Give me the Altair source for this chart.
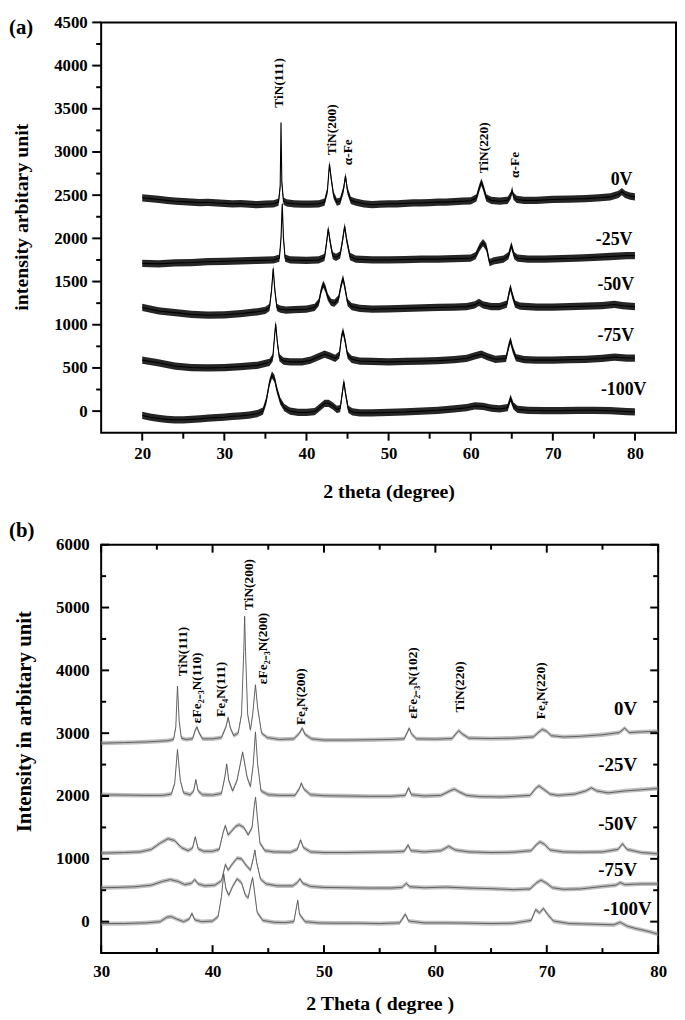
import altair as alt
import pandas as pd

FONT = "Liberation Serif"

# ---------------- panel (a): 2theta 20-80, five bias voltages ----------------
A_NAMES = ["0V", "-25V", "-50V", "-75V", "-100V"]
A_0V = [(20, 2470), (21, 2460), (22, 2450), (23, 2440), (24, 2430), (25, 2425), (26, 2420),
        (27, 2415), (28, 2418), (29, 2410), (30, 2405), (31, 2400), (32, 2402), (33, 2395),
        (34, 2390), (35, 2395), (36, 2400), (36.6, 2420), (36.8, 2600), (36.9, 3340), (37.0, 2650),
        (37.2, 2430), (37.6, 2410), (38.5, 2400), (39.5, 2395), (40.5, 2395), (41.5, 2400),
        (42.2, 2420), (42.55, 2550), (42.8, 2860), (43.0, 2700), (43.3, 2500), (43.7, 2420),
        (44.1, 2430), (44.5, 2560), (44.75, 2720), (45.0, 2550), (45.4, 2440), (46, 2420),
        (47, 2400), (48, 2390), (49, 2395), (50, 2400), (51, 2400), (52, 2405), (53, 2410),
        (54, 2410), (55, 2415), (56, 2420), (57, 2420), (58, 2425), (59, 2430), (60, 2435),
        (60.7, 2470), (61.1, 2600), (61.3, 2650), (61.5, 2600), (61.9, 2470), (62.5, 2440),
        (63.5, 2430), (64.5, 2440), (64.9, 2500), (65.05, 2560), (65.2, 2490), (65.6, 2450),
        (66.5, 2440), (68, 2440), (70, 2450), (72, 2455), (74, 2460), (75.5, 2470), (77, 2480),
        (78, 2510), (78.4, 2540), (78.8, 2510), (79.4, 2490), (80, 2480)]
A_25V = [(20, 1710), (22, 1705), (24, 1715), (26, 1720), (28, 1730), (30, 1735), (32, 1740),
         (34, 1745), (36, 1750), (36.7, 1770), (36.9, 2000), (37.05, 2400), (37.2, 2000),
         (37.4, 1770), (38, 1750), (40, 1745), (41.5, 1750), (42.2, 1780), (42.45, 1950),
         (42.65, 2110), (42.9, 1950), (43.2, 1800), (43.6, 1780), (44.1, 1810), (44.4, 1980),
         (44.65, 2140), (44.9, 1980), (45.3, 1790), (46, 1760), (48, 1750), (50, 1750),
         (52, 1755), (54, 1760), (56, 1760), (58, 1765), (60, 1770), (60.6, 1800), (61.1, 1900),
         (61.5, 1950), (61.9, 1900), (62.3, 1720), (62.8, 1740), (64, 1760), (64.6, 1800),
         (64.95, 1920), (65.3, 1800), (65.7, 1770), (67, 1760), (69, 1760), (71, 1765),
         (73, 1770), (75, 1780), (77, 1790), (79, 1800), (80, 1800)]
A_50V = [(20, 1200), (21, 1180), (22, 1160), (24, 1140), (26, 1120), (28, 1110), (30, 1115),
         (32, 1130), (34, 1150), (35, 1165), (35.5, 1200), (35.75, 1400), (35.95, 1650),
         (36.15, 1400), (36.4, 1200), (36.8, 1180), (37.5, 1170), (38.5, 1175), (40, 1180),
         (41, 1200), (41.5, 1260), (41.8, 1400), (42.05, 1470), (42.3, 1420), (42.6, 1320),
         (43.0, 1260), (43.4, 1250), (43.9, 1300), (44.2, 1450), (44.45, 1540), (44.7, 1420),
         (45.0, 1260), (45.5, 1210), (46.5, 1190), (48, 1180), (50, 1185), (52, 1190),
         (54, 1195), (56, 1200), (58, 1205), (59.5, 1210), (60.5, 1230), (61, 1260),
         (61.5, 1230), (62.5, 1210), (63.5, 1210), (64.4, 1240), (64.7, 1380), (64.85, 1430),
         (65.05, 1350), (65.4, 1240), (66, 1215), (68, 1205), (70, 1205), (72, 1210),
         (74, 1215), (76, 1220), (77.5, 1235), (78.5, 1220), (80, 1210)]
A_75V = [(20, 590), (22, 560), (24, 520), (26, 505), (28, 500), (30, 505), (32, 515), (34, 530),
         (35.5, 565), (35.9, 620), (36.1, 850), (36.25, 1010), (36.45, 800), (36.7, 620),
         (37.2, 580), (38, 570), (39.5, 570), (40.5, 590), (41.5, 630), (42.2, 660), (42.8, 640),
         (43.5, 610), (44.0, 650), (44.25, 850), (44.45, 930), (44.7, 820), (45.0, 650),
         (45.5, 600), (46.5, 580), (48, 575), (50, 570), (52, 575), (54, 580), (56, 585),
         (58, 595), (59.5, 610), (60.5, 640), (61.3, 660), (62, 630), (63, 600), (64.3, 610),
         (64.65, 760), (64.85, 820), (65.1, 720), (65.5, 620), (66.5, 595), (68, 590), (70, 590),
         (72, 595), (74, 600), (76, 610), (77.5, 625), (79, 615), (80, 615)]
A_100V = [(20, -50), (21, -70), (22, -85), (23, -95), (24, -100), (25, -100), (26, -95),
          (27, -90), (28, -80), (29, -75), (30, -70), (31, -60), (32, -55), (33, -45), (34, -30),
          (34.7, 0), (35.1, 120), (35.5, 330), (35.8, 420), (36.1, 380), (36.4, 250), (36.8, 120),
          (37.3, 40), (38, 0), (39, -15), (40, -15), (41, -5), (41.7, 50), (42.2, 90), (42.7, 90),
          (43.2, 60), (43.7, 20), (44.1, 30), (44.35, 200), (44.55, 340), (44.8, 180), (45.1, 20),
          (45.6, -10), (46.5, -20), (48, -20), (50, -15), (52, -10), (54, 0), (56, 10), (58, 25),
          (59.5, 40), (60.5, 60), (61.5, 55), (62.5, 35), (63.5, 25), (64.5, 40), (64.85, 150),
          (65.2, 60), (65.7, 20), (67, 10), (69, 5), (71, 5), (73, 10), (75, 10), (77, 5),
          (79, -5), (80, -10)]
A_DATA = [A_0V, A_25V, A_50V, A_75V, A_100V]

A_PEAK_TEXT = ["TiN(111)", "TiN(200)", "α-Fe", "TiN(220)", "α-Fe"]
A_PEAK_X = [36.66, 43.06, 45.1, 61.6, 65.35]
A_PEAK_Y = [3800, 3257, 2997, 3048, 2850]
A_LABEL_X = [79.7, 79.7, 79.9, 79.9, 81.4]
A_LABEL_Y = [2680, 1979, 1459, 871, 240]

A_XDOM = [15, 85]
A_YDOM = [-250, 4500]
A_X_MAJOR = [20, 30, 40, 50, 60, 70, 80]
A_X_MINOR = [25, 35, 45, 55, 65, 75]
A_Y_MAJOR = [0, 500, 1000, 1500, 2000, 2500, 3000, 3500, 4000, 4500]
A_Y_MINOR = [250, 750, 1250, 1750, 2250, 2750, 3250, 3750, 4250]
A_NOISE = 42

# ---------------- panel (b): 2theta 30-80 ----------------
B_NAMES = ["0V", "-25V", "-50V", "-75V", "-100V"]
B_0V = [(30, 2840), (31, 2845), (32, 2850), (33, 2855), (34, 2860), (35, 2870), (36, 2880),
        (36.5, 2900), (36.7, 3100), (36.85, 3750), (37.0, 3200), (37.2, 2920), (37.6, 2900),
        (38.2, 2910), (38.45, 3050), (38.6, 3100), (38.75, 3020), (39.1, 2910), (40.0, 2910),
        (40.8, 2930), (41.2, 3100), (41.4, 3250), (41.6, 3080), (41.9, 2960), (42.3, 3000),
        (42.6, 3300), (42.8, 4300), (42.88, 4860), (42.96, 4300), (43.15, 3300), (43.4, 3050),
        (43.6, 3300), (43.85, 3770), (44.05, 3400), (44.4, 3000), (44.9, 2930), (46, 2900),
        (47.3, 2910), (47.8, 3000), (48.05, 3080), (48.3, 2980), (48.9, 2910), (50, 2890),
        (52, 2890), (54, 2895), (56, 2900), (57.2, 2910), (57.5, 3020), (57.65, 3080),
        (57.85, 2990), (58.3, 2910), (60, 2905), (61.5, 2915), (61.9, 3000), (62.1, 3040),
        (62.4, 2990), (63, 2920), (65, 2915), (67, 2920), (68.8, 2940), (69.3, 3020),
        (69.6, 3060), (70.0, 3030), (70.4, 2960), (71.5, 2940), (73, 2950), (75, 2975),
        (76.5, 3010), (77, 3080), (77.4, 3010), (78.5, 3020), (80, 3030)]
B_25V = [(30, 2020), (32, 2015), (34, 2010), (35.5, 2010), (36.3, 2030), (36.6, 2200),
         (36.85, 2740), (37.1, 2250), (37.4, 2050), (38.0, 2020), (38.3, 2080), (38.5, 2260),
         (38.7, 2080), (39.1, 2020), (40.0, 2015), (40.8, 2040), (41.1, 2300), (41.27, 2510),
         (41.45, 2250), (41.8, 2080), (42.2, 2250), (42.7, 2700), (43.1, 2300), (43.4, 2150),
         (43.65, 2500), (43.85, 3020), (44.05, 2500), (44.35, 2080), (45, 2020), (46, 2010),
         (47.4, 2010), (47.8, 2120), (47.97, 2205), (48.2, 2110), (48.8, 2020), (50, 2005),
         (52, 2000), (54, 1995), (56, 1995), (57.3, 2010), (57.6, 2130), (57.85, 2020),
         (59, 2000), (60.5, 2010), (61.3, 2080), (61.7, 2110), (62.1, 2070), (62.8, 2010),
         (64, 1990), (66, 1985), (68.5, 2010), (69.0, 2120), (69.3, 2160), (69.7, 2110),
         (70.3, 2030), (71, 2010), (72.5, 2030), (73.5, 2080), (74.0, 2130), (74.5, 2080),
         (75.5, 2050), (77, 2080), (78.5, 2100), (80, 2120)]
B_50V = [(30, 1090), (32, 1100), (33.5, 1110), (34.5, 1150), (35.3, 1250), (36.0, 1320),
         (36.6, 1290), (37.2, 1180), (37.8, 1130), (38.2, 1170), (38.45, 1350), (38.7, 1160),
         (39.2, 1120), (40.0, 1120), (40.6, 1150), (40.95, 1420), (41.15, 1530), (41.4, 1380),
         (41.7, 1440), (42.1, 1520), (42.4, 1540), (42.8, 1500), (43.2, 1380), (43.55, 1500),
         (43.75, 1850), (43.86, 1980), (44.0, 1700), (44.25, 1250), (44.7, 1130), (45.5, 1110),
         (47.0, 1105), (47.6, 1150), (47.9, 1300), (48.15, 1180), (48.8, 1110), (50, 1100),
         (52, 1100), (54, 1105), (56, 1110), (57.2, 1120), (57.55, 1220), (57.8, 1130),
         (59, 1110), (60.5, 1130), (61.2, 1200), (61.8, 1140), (63, 1110), (65, 1100),
         (67, 1105), (68.6, 1130), (69.1, 1230), (69.4, 1270), (69.8, 1230), (70.3, 1140),
         (71.5, 1110), (73, 1105), (75, 1110), (76.4, 1150), (76.8, 1240), (77.2, 1150),
         (78.5, 1100), (80, 1080)]
B_75V = [(30, 540), (31.5, 545), (33, 555), (34.5, 580), (35.5, 640), (36.2, 670), (36.9, 640),
         (37.5, 590), (38.1, 610), (38.4, 670), (38.7, 600), (39.3, 570), (40.2, 580),
         (40.8, 650), (41.15, 910), (41.4, 820), (41.7, 900), (42.2, 1010), (42.6, 1000),
         (43.0, 900), (43.4, 820), (43.65, 1000), (43.8, 1140), (43.95, 950), (44.3, 680),
         (44.8, 600), (45.8, 570), (47.2, 570), (47.6, 620), (47.85, 680), (48.1, 610),
         (48.8, 560), (50, 545), (52, 540), (54, 535), (56, 535), (57.0, 545), (57.4, 610),
         (57.7, 555), (59, 540), (61, 550), (63, 535), (65, 525), (67, 510), (68.5, 520),
         (69.1, 620), (69.5, 660), (70.0, 610), (70.5, 540), (71.5, 515), (73, 520), (75, 560),
         (76.2, 580), (76.6, 620), (77.0, 590), (78.5, 600), (80, 600)]
B_100V = [(30, -30), (32, -30), (34, -20), (35.3, 0), (35.9, 70), (36.3, 80), (36.8, 40),
          (37.4, 0), (37.9, 40), (38.15, 130), (38.4, 30), (39, 0), (40.0, 10), (40.5, 80),
          (40.8, 400), (41.0, 760), (41.2, 520), (41.45, 420), (41.8, 560), (42.2, 680),
          (42.6, 620), (42.95, 420), (43.2, 380), (43.45, 600), (43.6, 700), (43.75, 500),
          (44.0, 150), (44.5, 20), (45.5, -10), (46.5, -15), (47.3, 0), (47.55, 250),
          (47.65, 340), (47.8, 120), (48.3, 0), (49.5, -20), (51, -25), (53, -25), (55, -30),
          (56.8, -20), (57.3, 120), (57.6, 10), (59, -20), (61, -20), (63, -25), (65, -30),
          (67, -25), (68.6, 20), (69.0, 190), (69.35, 140), (69.7, 210), (70.1, 110), (70.6, 10),
          (72, -30), (74, -40), (76, -50), (76.6, -10), (77.2, -70), (78, -110), (79, -150),
          (80, -200)]
B_DATA = [B_0V, B_25V, B_50V, B_75V, B_100V]

B_PEAK_TEXT = ["TiN(111)", "εFe₂₋₃N(110)", "Fe₄N(111)", "TiN(200)", "εFe₂₋₃N(200)",
               "Fe₄N(200)", "εFe₂₋₃N(102)", "TiN(220)", "Fe₄N(220)"]
B_PEAK_X = [37.35, 38.64, 40.75, 43.25, 44.49, 47.96, 58.02, 62.25, 69.46]
B_PEAK_Y = [4301, 3722, 3698, 5367, 4349, 3580, 3800, 3737, 3675]
B_LABEL_X = [78.1, 78.1, 78.1, 78.1, 79.4]
B_LABEL_Y = [3385, 2497, 1556, 815, 204]

B_XDOM = [30, 80]
B_YDOM = [-500, 6000]
B_X_MAJOR = [30, 40, 50, 60, 70, 80]
B_X_MINOR = [35, 45, 55, 65, 75]
B_Y_MAJOR = [0, 1000, 2000, 3000, 4000, 5000, 6000]
B_Y_MINOR = [500, 1500, 2500, 3500, 4500, 5500]
B_NOISE = 34

A_W, A_H = 580, 414
B_W, B_H = 562, 412


def frame(names, data, amp):
    rows = []
    for name, ser in zip(names, data):
        for x, y in ser:
            rows.append({"s": name, "x": x, "c": y, "lo": y - amp, "hi": y + amp})
    return pd.DataFrame(rows)


def axis(values, title, lpad, tpad, tsize, **kw):
    return alt.Axis(values=values, title=title, format="d", ticks=False, tickSize=0,
                    domain=False, grid=False,
                    labelPadding=lpad, titlePadding=tpad, labelFont=FONT, labelFontSize=17,
                    labelFontWeight="bold", labelColor="black", titleFont=FONT, titleFontSize=tsize,
                    titleFontWeight="bold", titleColor="black", labelFlush=False, labelOverlap=False, **kw)


def panel(names, data, amp, xdom, ydom, W, H, xt, xm, yt, ym, xaxis, yaxis,
          fill, fill_op, stroke, sw, peaks, labels, lab_size, tag, inward):
    xs = alt.Scale(domain=xdom, nice=False, zero=False)
    ys = alt.Scale(domain=ydom, nice=False, zero=False)

    def X(field):
        return alt.X(field, type="quantitative", scale=xs, axis=xaxis)

    def Y(field):
        return alt.Y(field, type="quantitative", scale=ys, axis=yaxis)

    def rules(values, chan, a, b):
        base = alt.Chart(pd.DataFrame({"v": values})).mark_rule(color="black", strokeWidth=2)
        if chan == "y":
            return base.encode(y=alt.Y("v", type="quantitative", scale=ys, axis=None),
                               x=alt.value(a), x2=alt.value(b))
        return base.encode(x=alt.X("v", type="quantitative", scale=xs, axis=None),
                           y=alt.value(a), y2=alt.value(b))

    df = frame(names, data, amp)
    band = alt.Chart(df).mark_area(color=fill, opacity=fill_op).encode(
        x=X("x"), y=Y("lo"), y2="hi", detail="s:N")
    line = alt.Chart(df).mark_line(color=stroke, strokeWidth=sw).encode(
        x=X("x"), y=Y("c"), detail="s:N")
    pk = alt.Chart(pd.DataFrame({"x": peaks[0], "y": peaks[1], "t": peaks[2]})).mark_text(
        angle=270, align="center", baseline="middle", font=FONT, fontSize=13.5,
        fontWeight="bold", color="black").encode(x=X("x"), y=Y("y"), text="t:N")
    lb = alt.Chart(pd.DataFrame({"x": labels[0], "y": labels[1], "t": names})).mark_text(
        align="right", baseline="middle", font=FONT, fontSize=lab_size, fontWeight="bold",
        color="black").encode(x=X("x"), y=Y("y"), text="t:N")
    tg = alt.Chart(pd.DataFrame({"t": [tag[0]]})).mark_text(
        align="left", baseline="middle", font=FONT, fontSize=21, fontWeight="bold",
        color="black").encode(x=alt.value(tag[1]), y=alt.value(tag[2]), text="t:N")
    main = alt.layer(band, line, pk, lb, tg)
    if inward:
        tk = [rules(yt, "y", 0, 8), rules(ym, "y", 0, 5),
              rules(yt, "y", W, W - 8), rules(ym, "y", W, W - 5),
              rules(xt, "x", H, H - 8), rules(xm, "x", H, H - 5),
              rules(xt, "x", 0, 8), rules(xm, "x", 0, 5)]
    else:
        tk = [rules(yt, "y", 0, -9), rules(ym, "y", 0, -5),
              rules(xt, "x", H, H + 8), rules(xm, "x", H, H + 6)]
    return alt.layer(main, alt.layer(*tk)).resolve_axis(
        x="independent", y="independent").properties(width=W, height=H)


chart_a = panel(
    A_NAMES, A_DATA, A_NOISE, A_XDOM, A_YDOM, A_W, A_H, A_X_MAJOR, A_X_MINOR, A_Y_MAJOR, A_Y_MINOR,
    axis(A_X_MAJOR, "2 theta (degree)", 13, 20, 20),
    axis(A_Y_MAJOR, "intensity arbitary unit", 14, 22, 20, titleY=196),
    "black", 0.85, "black", 1.1, (A_PEAK_X, A_PEAK_Y, A_PEAK_TEXT), (A_LABEL_X, A_LABEL_Y),
    18, ("(a)", -93, 6), False)

chart_b = panel(
    B_NAMES, B_DATA, B_NOISE, B_XDOM, B_YDOM, B_W, B_H, B_X_MAJOR, B_X_MINOR, B_Y_MAJOR, B_Y_MINOR,
    axis(B_X_MAJOR, "2 Theta ( degree )", 11, 14, 20),
    axis(B_Y_MAJOR, "Intensity in arbitary unit", 12, 21, 21, titleY=178),
    "#8a8a8a", 0.55, "#555555", 0.9, (B_PEAK_X, B_PEAK_Y, B_PEAK_TEXT), (B_LABEL_X, B_LABEL_Y),
    19, ("(b)", -93, -14), True)

chart = alt.vconcat(chart_a, chart_b, spacing=17).properties(
    padding={"left": 0, "top": 0, "right": 0, "bottom": 0}
).configure_view(stroke="black", strokeWidth=2)

chart.save("out.html", embed_options={"renderer": "svg", "actions": False})
